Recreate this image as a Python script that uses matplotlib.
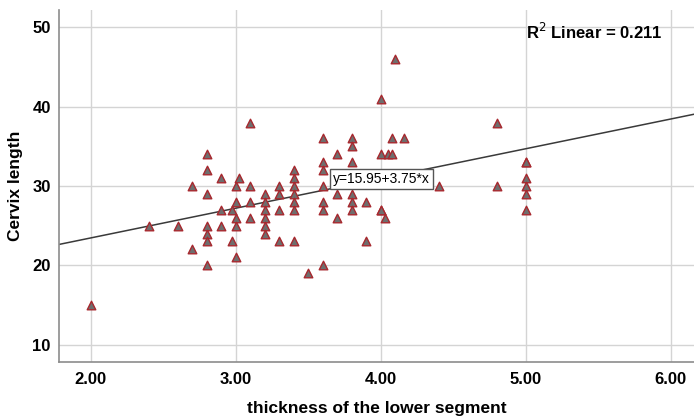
import matplotlib.pyplot as plt

plt.rcParams['font.family'] = ['Liberation Sans', 'DejaVu Sans']

# thickness of the lower segment vs cervix length
thickness = [2.0, 2.4, 2.6,
             2.7, 2.7,
             2.8, 2.8, 2.8, 2.8, 2.8, 2.8, 2.8,
             2.9, 2.9, 2.9,
             2.97, 2.97,
             3.0, 3.0, 3.0, 3.0, 3.0,
             3.02,
             3.1, 3.1, 3.1, 3.1,
             3.2, 3.2, 3.2, 3.2, 3.2, 3.2,
             3.3, 3.3, 3.3, 3.3,
             3.4, 3.4, 3.4, 3.4, 3.4, 3.4, 3.4,
             3.5,
             3.6, 3.6, 3.6, 3.6, 3.6, 3.6, 3.6,
             3.7, 3.7, 3.7,
             3.8, 3.8, 3.8, 3.8, 3.8, 3.8,
             3.9, 3.9,
             4.0, 4.0, 4.0, 4.0,
             4.03, 4.05, 4.08, 4.08, 4.1, 4.16,
             4.4, 4.8, 4.8,
             5.0, 5.0, 5.0, 5.0, 5.0, 5.0]
cervix = [15, 25, 25,
          30, 22,
          34, 32, 29, 25, 24, 23, 20,
          31, 27, 25,
          27, 23,
          30, 28, 26, 25, 21,
          31,
          38, 30, 28, 26,
          29, 28, 27, 26, 25, 24,
          30, 29, 27, 23,
          32, 31, 30, 29, 28, 27, 23,
          19,
          36, 33, 32, 30, 28, 27, 20,
          34, 29, 26,
          36, 35, 33, 29, 28, 27,
          28, 23,
          41, 34, 27, 27,
          26, 34, 36, 34, 46, 36,
          30, 38, 30,
          33, 33, 31, 30, 29, 27]

intercept = 15.95
slope = 3.75
r2 = 0.211

xlim = (1.78, 6.16)
ylim = (7.8, 52.2)
xticks = [2, 3, 4, 5, 6]
yticks = [10, 20, 30, 40, 50]

fig = plt.figure(figsize=(6.94, 4.17), dpi=100)
ax = fig.add_axes([0.085, 0.132, 0.915, 0.844])

ax.set_xlim(xlim)
ax.set_ylim(ylim)
ax.set_xticks(xticks)
ax.set_yticks(yticks)
ax.set_xticklabels(['%.2f' % t for t in xticks])
ax.grid(True, color='#d4d4d4', linewidth=1)
ax.set_axisbelow(True)
for s in ['top', 'right']:
    ax.spines[s].set_visible(False)
for s in ['left', 'bottom']:
    ax.spines[s].set_color('#8c8c8c')
    ax.spines[s].set_linewidth(1.2)
ax.tick_params(length=0, labelsize=12)
ax.tick_params(axis='x', pad=7)
ax.tick_params(axis='y', pad=6)
for lab in ax.get_xticklabels() + ax.get_yticklabels():
    lab.set_fontweight('bold')

# fit line across the whole axis
ax.plot(xlim, [intercept + slope * x for x in xlim], color='#3a3a3a', linewidth=1.1, zorder=2)

ax.scatter(thickness, cervix, marker='^', s=38, facecolor='#6e6e6e',
           edgecolor='#a8282e', linewidth=1.0, zorder=3)

ax.text(3.67, 30.87, 'y=15.95+3.75*x', fontsize=10, va='center', ha='left', zorder=4,
        bbox=dict(boxstyle='square,pad=0.2', facecolor='white', edgecolor='#555555', linewidth=1))
ax.text(5.0, 49.4, r'R$^2$ Linear = %.3f' % r2, fontsize=12, fontweight='bold',
        va='center', ha='left')

ax.set_xlabel('thickness of the lower segment', fontsize=12.5, fontweight='bold', labelpad=10)
ax.set_ylabel('Cervix length', fontsize=12.5, fontweight='bold', labelpad=7)

fig.savefig('out.png', dpi=100)
